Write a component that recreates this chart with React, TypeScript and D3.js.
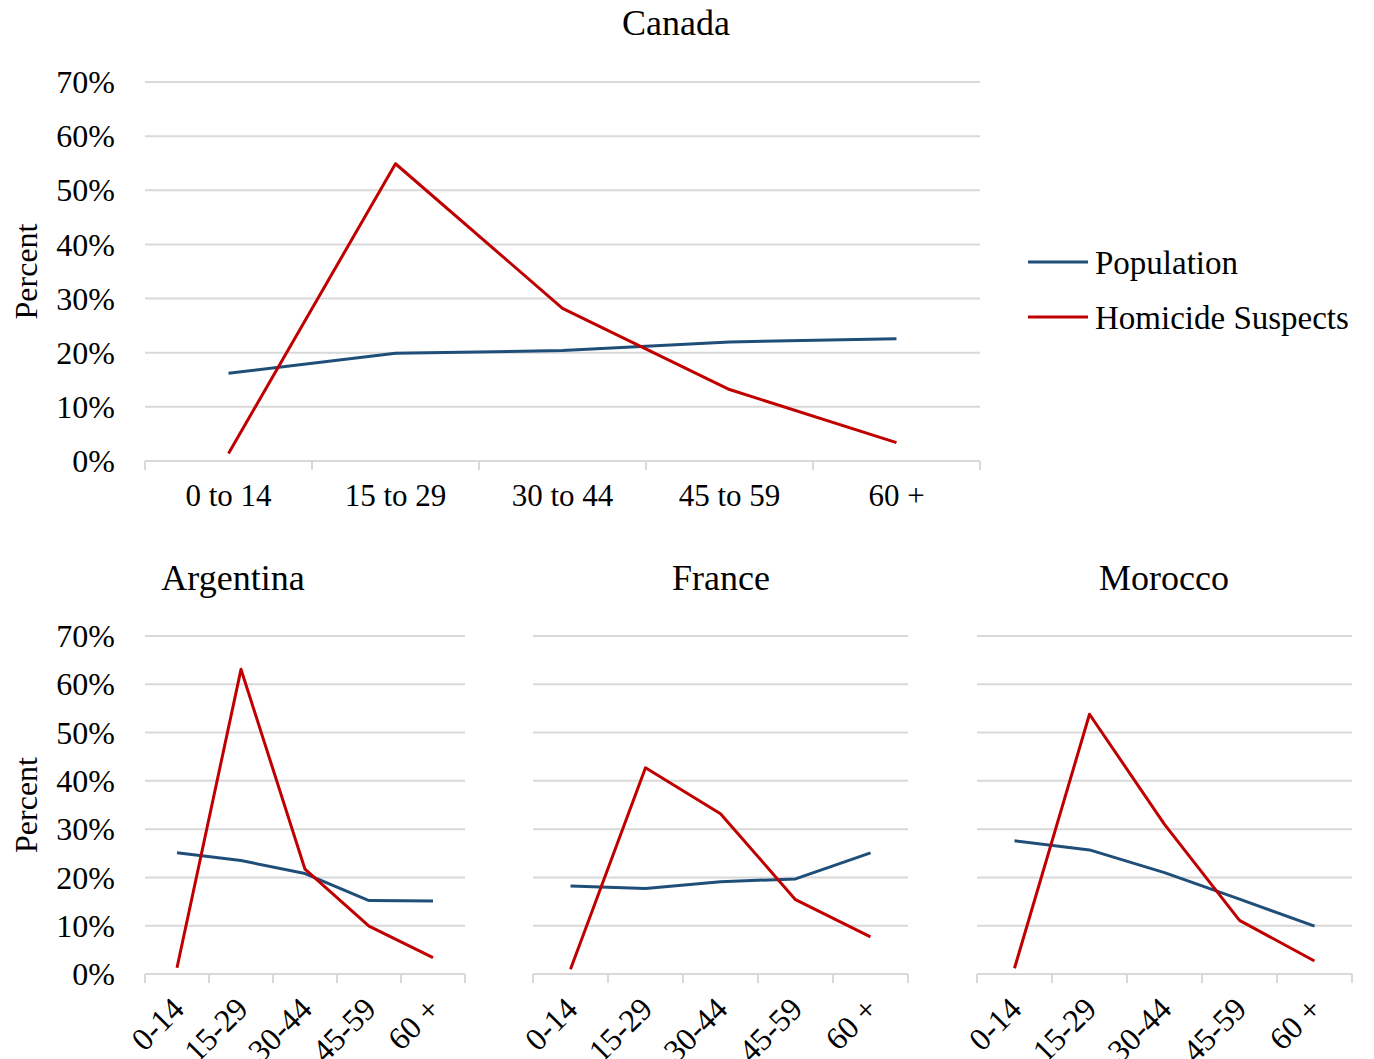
import React, { useEffect, useRef } from 'react';
import * as d3 from 'd3';

// age groups
const longAges = ['0 to 14', '15 to 29', '30 to 44', '45 to 59', '60 +'];
const shortAges = ['0-14', '15-29', '30-44', '45-59', '60 +'];
const yTicks = [0, 10, 20, 30, 40, 50, 60, 70];

// percent of population / homicide suspects per age group
const canadaPop = [16.2, 19.9, 20.4, 22.0, 22.6];
const canadaHom = [1.4, 54.9, 28.2, 13.2, 3.4];
const argentinaPop = [25.1, 23.5, 20.8, 15.2, 15.1];
const argentinaHom = [1.3, 63.1, 21.7, 9.9, 3.4];
const francePop = [18.2, 17.7, 19.1, 19.7, 25.1];
const franceHom = [1.0, 42.7, 33.2, 15.4, 7.7];
const moroccoPop = [27.6, 25.7, 21.0, 15.5, 9.9];
const moroccoHom = [1.2, 53.8, 31.0, 11.1, 2.7];

const seriesNames = ['Population', 'Homicide Suspects'];
const seriesColors = ['#1f4e79', '#c00000'];

const FONT = '"Liberation Serif", "Times New Roman", serif';
const GRID = '#d9d9d9';

interface Panel {
  title: string;
  titleX: number;
  titleY: number;
  x0: number;
  x1: number;
  y0: number;
  y1: number;
  labels: string[];
  rotated: boolean;
  yLabels: boolean;
  pop: number[];
  hom: number[];
}

export default function App() {
  const svgRef = useRef<SVGSVGElement>(null);

  useEffect(() => {
    if (!svgRef.current) return;
    const svg = d3.select(svgRef.current);
    svg.selectAll('*').remove();

    const panels: Panel[] = [
      { title: 'Canada', titleX: 676, titleY: 35, x0: 145, x1: 980, y0: 461, y1: 82, labels: longAges, rotated: false, yLabels: true, pop: canadaPop, hom: canadaHom },
      { title: 'Argentina', titleX: 233, titleY: 590, x0: 145, x1: 465, y0: 974, y1: 636, labels: shortAges, rotated: true, yLabels: true, pop: argentinaPop, hom: argentinaHom },
      { title: 'France', titleX: 721, titleY: 590, x0: 533, x1: 908, y0: 974, y1: 636, labels: shortAges, rotated: true, yLabels: false, pop: francePop, hom: franceHom },
      { title: 'Morocco', titleX: 1164, titleY: 590, x0: 977, x1: 1352, y0: 974, y1: 636, labels: shortAges, rotated: true, yLabels: false, pop: moroccoPop, hom: moroccoHom },
    ];

    panels.forEach(p => {
      const g = svg.append('g');
      const x = d3.scaleBand<string>().domain(p.labels).range([p.x0, p.x1]).padding(0);
      const y = d3.scaleLinear().domain([0, 70]).range([p.y0, p.y1]);

      g.append('text')
        .attr('x', p.titleX)
        .attr('y', p.titleY)
        .attr('text-anchor', 'middle')
        .attr('font-size', 36)
        .attr('fill', '#000')
        .text(p.title);

      // gridlines
      g.selectAll('.grid')
        .data(yTicks)
        .enter().append('line')
        .attr('x1', p.x0)
        .attr('x2', p.x1)
        .attr('y1', d => y(d))
        .attr('y2', d => y(d))
        .attr('stroke', GRID)
        .attr('stroke-width', 2);

      // tick marks at band boundaries
      const bounds = p.labels.map(l => x(l)!).concat([p.x1]);
      g.selectAll('.tick')
        .data(bounds)
        .enter().append('line')
        .attr('x1', d => d)
        .attr('x2', d => d)
        .attr('y1', p.y0)
        .attr('y2', p.y0 + 9)
        .attr('stroke', GRID)
        .attr('stroke-width', 2);

      if (p.yLabels) {
        g.selectAll('.ylab')
          .data(yTicks)
          .enter().append('text')
          .attr('x', 115)
          .attr('y', d => y(d))
          .attr('dy', '0.35em')
          .attr('text-anchor', 'end')
          .attr('font-size', 32)
          .text(d => `${d}%`);

        g.append('text')
          .attr('transform', `translate(37,${(p.y0 + p.y1) / 2}) rotate(-90)`)
          .attr('text-anchor', 'middle')
          .attr('font-size', 32)
          .text('Percent');
      }

      const cx = (l: string) => x(l)! + x.bandwidth() / 2;

      if (p.rotated) {
        g.selectAll('.xlab')
          .data(p.labels)
          .enter().append('text')
          .attr('transform', d => `translate(${cx(d) + 1},${p.y0 + 29}) rotate(-45)`)
          .attr('dy', '0.35em')
          .attr('text-anchor', 'end')
          .attr('font-size', 32)
          .text(d => d);
      } else {
        g.selectAll('.xlab')
          .data(p.labels)
          .enter().append('text')
          .attr('x', d => cx(d))
          .attr('y', p.y0 + 45)
          .attr('text-anchor', 'middle')
          .attr('font-size', 31)
          .text(d => d);
      }

      const line = d3.line<number>()
        .x((_, i) => cx(p.labels[i]))
        .y(d => y(d));

      [p.pop, p.hom].forEach((vals, i) => {
        g.append('path')
          .datum(vals)
          .attr('fill', 'none')
          .attr('stroke', seriesColors[i])
          .attr('stroke-width', 3)
          .attr('stroke-linejoin', 'round')
          .attr('d', line);
      });
    });

    // legend
    const legend = svg.append('g');
    seriesNames.forEach((name, i) => {
      const ly = 262 + i * 55;
      legend.append('line')
        .attr('x1', 1028)
        .attr('x2', 1088)
        .attr('y1', ly)
        .attr('y2', ly)
        .attr('stroke', seriesColors[i])
        .attr('stroke-width', 3);
      legend.append('text')
        .attr('x', 1095)
        .attr('y', ly)
        .attr('dy', '0.35em')
        .attr('font-size', 33)
        .text(name);
    });
  }, []);

  return (
    <svg
      ref={svgRef}
      width={1374}
      height={1059}
      style={{ position: 'absolute', left: 0, top: 0, background: '#fff', fontFamily: FONT }}
    />
  );
}
